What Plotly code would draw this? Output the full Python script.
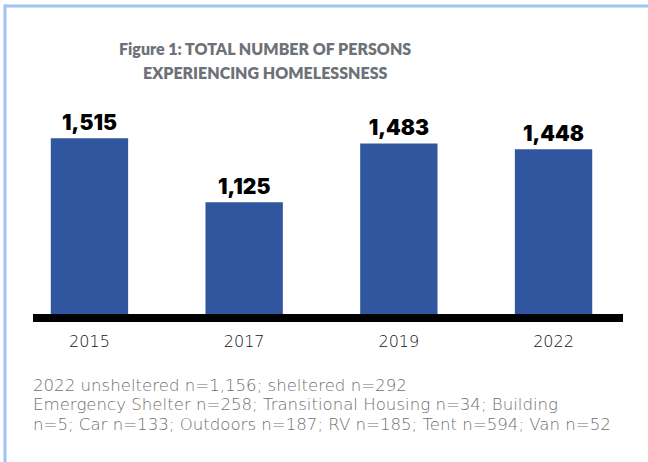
import plotly.graph_objects as go

years = ["2015", "2017", "2019", "2022"]
totals = [1515, 1125, 1483, 1448]
value_labels = ["1,515", "1,125", "1,483", "1,448"]
title_lines = ["Figure 1: TOTAL NUMBER OF PERSONS", "EXPERIENCING HOMELESSNESS"]
footnote_lines = [
    "2022 unsheltered n=1,156; sheltered n=292",
    "Emergency Shelter n=258; Transitional Housing n=34; Building",
    "n=5; Car n=133; Outdoors n=187; RV n=185; Tent n=594; Van n=52",
]

W, H = 648, 462
PL, PR, PT, PB = 33, 623, 90, 314


def px(x):
    return (x - PL) / (PR - PL)


def py(y):
    return (PB - y) / (PB - PT)


fig = go.Figure(
    go.Bar(
        x=years,
        y=totals,
        width=0.5,
        marker=dict(color="#30569F", line=dict(width=0)),
        text=value_labels,
        textposition="outside",
        cliponaxis=False,
        textfont=dict(family="Inter", size=21, color="#000000", weight=900),
        hoverinfo="skip",
    )
)

fig.update_layout(
    width=W,
    height=H,
    margin=dict(l=PL, r=W - PR, t=PT, b=H - PB, pad=0),
    paper_bgcolor="white",
    plot_bgcolor="white",
    showlegend=False,
    bargap=0.5,
    xaxis=dict(
        type="category",
        range=[-0.365, 3.449],
        showline=True,
        linecolor="black",
        linewidth=8,
        ticks="",
        showgrid=False,
        zeroline=False,
        ticklabelstandoff=6,
        tickfont=dict(family="DejaVu Sans", size=16, color="#111111", weight=200),
    ),
    yaxis=dict(
        range=[446, 1808],
        visible=False,
        showgrid=False,
        zeroline=False,
    ),
)

title_y = [48, 73]
for line, yy in zip(title_lines, title_y):
    fig.add_annotation(
        text=line,
        xref="paper",
        yref="paper",
        x=px(265),
        y=py(yy),
        xanchor="center",
        yanchor="middle",
        showarrow=False,
        font=dict(family="Lato", size=16, color="#6D7278", weight=800),
    )

foot_y = [385.5, 404.5, 424]
for line, yy in zip(footnote_lines, foot_y):
    fig.add_annotation(
        text=line,
        xref="paper",
        yref="paper",
        x=px(31),
        y=py(yy),
        xanchor="left",
        yanchor="middle",
        align="left",
        showarrow=False,
        font=dict(family="DejaVu Sans", size=16.6, color="#707070", weight=200),
    )

border = "#A0C4F4"
fig.add_shape(type="line", xref="paper", yref="paper",
              x0=px(4), x1=px(W + 5), y0=py(6), y1=py(6),
              line=dict(color=border, width=3))
fig.add_shape(type="line", xref="paper", yref="paper",
              x0=px(5), x1=px(5), y0=py(4.5), y1=py(H + 5),
              line=dict(color=border, width=3))

fig.write_html(
    "out.html",
    config={"displayModeBar": False},
    post_script="document.body.style.margin='0';",
)
